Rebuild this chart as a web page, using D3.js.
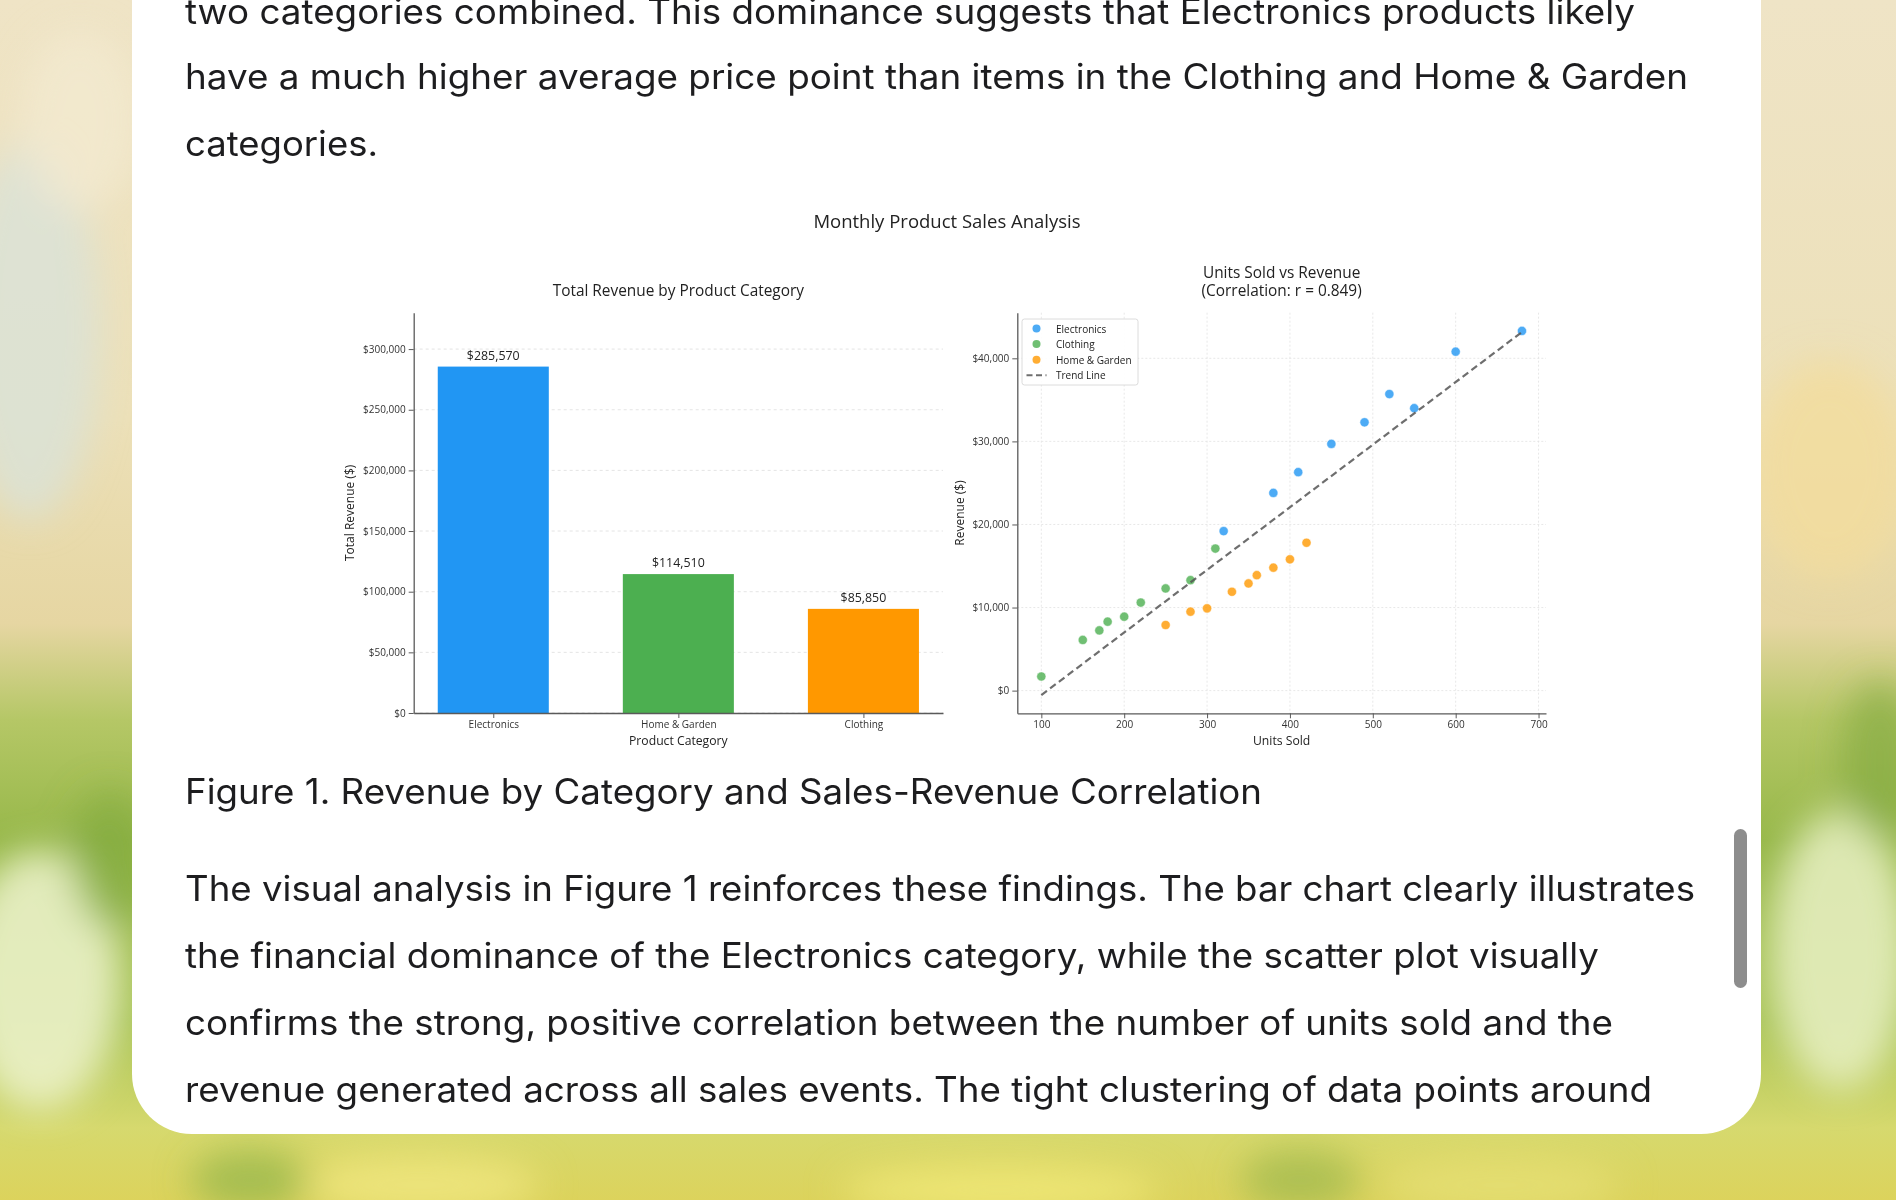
<!DOCTYPE html>
<html>
<head>
<meta charset="utf-8">
<script src="https://cdn.jsdelivr.net/npm/d3@7"></script>
<style>
html, body { margin: 0; padding: 0; width: 1896px; height: 1200px; overflow: hidden; background: #e9dcb4; }
svg { display: block; }
</style>
</head>
<body>
<svg id="page" width="1896" height="1200"></svg>
<script>
// ---------- DATA ----------
const categories = ["Electronics", "Home & Garden", "Clothing"];
const totalRevenue = [285570, 114510, 85850];
const barColors = ["#2196F3", "#4CAF50", "#FF9800"];
const revenueTicks = [0, 50000, 100000, 150000, 200000, 250000, 300000];

const electronicsUnits   = [320, 380, 410, 450, 490, 520, 550, 600, 680];
const electronicsRevenue = [19200, 23800, 26300, 29700, 32300, 35700, 34000, 40800, 43300];
const clothingUnits      = [100, 150, 170, 180, 200, 220, 250, 280, 310];
const clothingRevenue    = [1700, 6100, 7250, 8300, 8900, 10600, 12300, 13300, 17100];
const homeUnits          = [250, 280, 300, 330, 350, 360, 380, 400, 420];
const homeRevenue        = [7900, 9500, 9900, 11900, 12900, 13900, 14800, 15800, 17800];
const scatterSeries = ["Electronics", "Clothing", "Home & Garden"];
const scatterColors = ["#2196F3", "#4CAF50", "#FF9800"];
const unitTicks = [100, 200, 300, 400, 500, 600, 700];
const scatterRevenueTicks = [0, 10000, 20000, 30000, 40000];

const suptitle = "Monthly Product Sales Analysis";
const barTitle = "Total Revenue by Product Category";
const scatterTitle1 = "Units Sold vs Revenue";
const scatterTitle2 = "(Correlation: r = 0.849)";

const textTop = [
  "two categories combined. This dominance suggests that Electronics products likely",
  "have a much higher average price point than items in the Clothing and Home & Garden",
  "categories."
];
const caption = "Figure 1. Revenue by Category and Sales-Revenue Correlation";
const textBottom = [
  "The visual analysis in Figure 1 reinforces these findings. The bar chart clearly illustrates",
  "the financial dominance of the Electronics category, while the scatter plot visually",
  "confirms the strong, positive correlation between the number of units sold and the",
  "revenue generated across all sales events. The tight clustering of data points around"
];

// ---------- PAGE ----------
const svg = d3.select("#page");
const defs = svg.append("defs");
const bg = defs.append("linearGradient").attr("id", "bgv").attr("x1", 0).attr("y1", 0).attr("x2", 0).attr("y2", 1);
[[0, "#efe4c6"], [0.35, "#ece0b8"], [0.52, "#e6d6a2"], [0.6, "#b5c766"], [0.7, "#97b84a"], [0.85, "#a9c457"], [0.94, "#d6d96e"], [1, "#dcd35c"]]
  .forEach(([o, c]) => bg.append("stop").attr("offset", o).attr("stop-color", c));
defs.append("filter").attr("id", "blur").append("feGaussianBlur").attr("stdDeviation", 18);

svg.append("rect").attr("width", 1896).attr("height", 1200).attr("fill", "url(#bgv)");
const blobs = svg.append("g").attr("filter", "url(#blur)");
[
  [30, 330, 70, 190, "#d9e2d8", 0.8],
  [80, 120, 60, 90, "#f3ead0", 0.8],
  [40, 980, 80, 130, "#eef3cf", 0.85],
  [110, 860, 40, 70, "#7fa83c", 0.6],
  [1830, 470, 80, 110, "#f2dc9c", 0.8],
  [1840, 950, 70, 140, "#e9f0c4", 0.85],
  [1880, 760, 40, 80, "#7ea63a", 0.6],
  [420, 1185, 120, 30, "#eee67e", 0.9],
  [1000, 1190, 160, 25, "#f0e878", 0.9],
  [1500, 1185, 120, 30, "#e4de72", 0.9],
  [250, 1180, 60, 30, "#8db34a", 0.7],
  [1300, 1180, 60, 30, "#98b64c", 0.7]
].forEach(([cx, cy, rx, ry, c, o]) =>
  blobs.append("ellipse").attr("cx", cx).attr("cy", cy).attr("rx", rx).attr("ry", ry).attr("fill", c).attr("opacity", o));

// card
svg.append("rect").attr("x", 132).attr("y", -100).attr("width", 1629).attr("height", 1234)
  .attr("rx", 60).attr("fill", "#ffffff");
// scrollbar
svg.append("rect").attr("x", 1734).attr("y", 829).attr("width", 13).attr("height", 159)
  .attr("rx", 6.5).attr("fill", "#8d8d8d");

// body text
const bodyFont = "Inter, 'Noto Sans', sans-serif";
const bodyGroup = svg.append("g").attr("font-family", bodyFont).attr("font-size", 35).attr("fill", "#1d1d1f");
const topWidths = [1450, 1503, 193];
const topBase = [24, 89, 156];
textTop.forEach((t, i) => bodyGroup.append("text").attr("x", 185).attr("y", topBase[i])
  .attr("textLength", topWidths[i]).attr("lengthAdjust", "spacingAndGlyphs").text(t));
bodyGroup.append("text").attr("x", 185).attr("y", 804).attr("textLength", 1077)
  .attr("lengthAdjust", "spacingAndGlyphs").text(caption);
const botWidths = [1510, 1414, 1428, 1467];
const botBase = [901, 968, 1035, 1102];
textBottom.forEach((t, i) => bodyGroup.append("text").attr("x", 185).attr("y", botBase[i])
  .attr("textLength", botWidths[i]).attr("lengthAdjust", "spacingAndGlyphs").text(t));

// ---------- CHART ----------
const chartFont = "'Open Sans', 'Noto Sans', sans-serif";
const chart = svg.append("g").attr("font-family", chartFont);
const fmtMoney = d => "$" + d3.format(",")(d);

chart.append("text").attr("x", 947).attr("y", 228).attr("text-anchor", "middle")
  .attr("font-size", 18.5).attr("fill", "#222").text(suptitle);

function styleAxis(g) {
  g.selectAll(".domain").attr("stroke", "#5a5a5a").attr("stroke-width", 1.3);
  g.selectAll(".tick line").attr("stroke", "#5a5a5a").attr("stroke-width", 1);
  g.selectAll(".tick text").attr("fill", "#333").attr("font-size", 10).attr("font-family", chartFont);
}

// --- Bar chart ---
const bL = 413.7, bR = 943, bT = 312.7, bB = 713;
const bx = d3.scaleLinear().domain([-0.43, categories.length - 1 + 0.43]).range([bL, bR]);
const by = d3.scaleLinear().domain([0, 330000]).range([bB, bT]);
const barW = 0.6;

const bGrid = chart.append("g");
bGrid.selectAll("line").data(revenueTicks).join("line")
  .attr("x1", bL).attr("x2", bR).attr("y1", d => by(d)).attr("y2", d => by(d))
  .attr("stroke", "#cfcfcf").attr("stroke-dasharray", "3,3").attr("stroke-width", 0.8).attr("opacity", 0.7);

chart.append("g").selectAll("rect").data(totalRevenue).join("rect")
  .attr("x", (d, i) => bx(i - barW / 2)).attr("width", (d, i) => bx(i + barW / 2) - bx(i - barW / 2))
  .attr("y", d => by(d)).attr("height", d => by(0) - by(d))
  .attr("fill", (d, i) => barColors[i]);

chart.append("g").selectAll("text").data(totalRevenue).join("text")
  .attr("x", (d, i) => bx(i)).attr("y", d => by(d) - 7).attr("text-anchor", "middle")
  .attr("font-size", 12.4).attr("fill", "#222").text(d => fmtMoney(d));

const bxAxis = chart.append("g").attr("transform", `translate(0,${bB})`)
  .call(d3.axisBottom(bx).tickValues(categories.map((c, i) => i)).tickFormat(i => categories[i])
    .tickSize(5).tickSizeOuter(0).tickPadding(3));
styleAxis(bxAxis);
const byAxis = chart.append("g").attr("transform", `translate(${bL},0)`)
  .call(d3.axisLeft(by).tickValues(revenueTicks).tickFormat(fmtMoney).tickSize(5).tickSizeOuter(0).tickPadding(3));
styleAxis(byAxis);

chart.append("text").attr("x", (bL + bR) / 2).attr("y", 296).attr("text-anchor", "middle")
  .attr("font-size", 15.4).attr("fill", "#222").text(barTitle);
chart.append("text").attr("x", (bL + bR) / 2).attr("y", 745).attr("text-anchor", "middle")
  .attr("font-size", 12.2).attr("fill", "#222").text("Product Category");
chart.append("text").attr("transform", `translate(349,${(bT + bB) / 2}) rotate(-90)`)
  .attr("text-anchor", "middle").attr("dominant-baseline", "central")
  .attr("font-size", 12).attr("fill", "#222").text("Total Revenue ($)");

// --- Scatter ---
const sL = 1017.3, sR = 1546, sT = 312.7, sB = 713.3;
const seriesUnits = [electronicsUnits, clothingUnits, homeUnits];
const seriesRevenue = [electronicsRevenue, clothingRevenue, homeRevenue];
const allX = seriesUnits.flat(), allY = seriesRevenue.flat();
const mx = d3.mean(allX), my = d3.mean(allY);
const slope = d3.sum(allX.map((x, i) => (x - mx) * (allY[i] - my))) / d3.sum(allX.map(x => (x - mx) ** 2));
const intercept = my - slope * mx;
const [xMin, xMax] = d3.extent(allX);
const trend = [[xMin, intercept + slope * xMin], [xMax, intercept + slope * xMax]];
const yLo = Math.min(d3.min(allY), trend[0][1], trend[1][1]);
const yHi = Math.max(d3.max(allY), trend[0][1], trend[1][1]);
const xPad = (xMax - xMin) * 0.05, yPad = (yHi - yLo) * 0.05;
const sx = d3.scaleLinear().domain([xMin - xPad, xMax + xPad]).range([sL, sR]);
const sy = d3.scaleLinear().domain([yLo - yPad, yHi + yPad]).range([sB, sT]);

const sGrid = chart.append("g").attr("stroke", "#d6d6d6").attr("stroke-width", 0.8)
  .attr("stroke-dasharray", "2,2").attr("opacity", 0.7);
sGrid.selectAll(".gx").data(unitTicks).join("line").attr("class", "gx")
  .attr("x1", d => sx(d)).attr("x2", d => sx(d)).attr("y1", sT).attr("y2", sB);
sGrid.selectAll(".gy").data(scatterRevenueTicks).join("line").attr("class", "gy")
  .attr("x1", sL).attr("x2", sR).attr("y1", d => sy(d)).attr("y2", d => sy(d));

seriesUnits.forEach((us, k) => {
  chart.append("g").selectAll("circle").data(us).join("circle")
    .attr("cx", d => sx(d)).attr("cy", (d, i) => sy(seriesRevenue[k][i])).attr("r", 4.6)
    .attr("fill", scatterColors[k]).attr("fill-opacity", 0.8)
    .attr("stroke", "#fff").attr("stroke-width", 0.5);
});

chart.append("path").datum(trend)
  .attr("d", d3.line().x(d => sx(d[0])).y(d => sy(d[1])))
  .attr("fill", "none").attr("stroke", "#555").attr("stroke-width", 2.2)
  .attr("stroke-dasharray", "7,4").attr("opacity", 0.85);

const sxAxis = chart.append("g").attr("transform", `translate(0,${sB})`)
  .call(d3.axisBottom(sx).tickValues(unitTicks).tickSize(5).tickSizeOuter(0).tickPadding(3));
styleAxis(sxAxis);
const syAxis = chart.append("g").attr("transform", `translate(${sL},0)`)
  .call(d3.axisLeft(sy).tickValues(scatterRevenueTicks).tickFormat(fmtMoney).tickSize(5).tickSizeOuter(0).tickPadding(3));
styleAxis(syAxis);

chart.append("text").attr("x", (sL + sR) / 2).attr("y", 278).attr("text-anchor", "middle")
  .attr("font-size", 15.4).attr("fill", "#222").text(scatterTitle1);
chart.append("text").attr("x", (sL + sR) / 2).attr("y", 296).attr("text-anchor", "middle")
  .attr("font-size", 15.4).attr("fill", "#222").text(scatterTitle2);
chart.append("text").attr("x", (sL + sR) / 2).attr("y", 745).attr("text-anchor", "middle")
  .attr("font-size", 12.2).attr("fill", "#222").text("Units Sold");
chart.append("text").attr("transform", `translate(959,${(sT + sB) / 2}) rotate(-90)`)
  .attr("text-anchor", "middle").attr("dominant-baseline", "central")
  .attr("font-size", 12).attr("fill", "#222").text("Revenue ($)");

// legend
const lg = chart.append("g").attr("transform", "translate(1022,319)");
lg.append("rect").attr("width", 116).attr("height", 66).attr("rx", 2.5)
  .attr("fill", "#fff").attr("fill-opacity", 0.9).attr("stroke", "#d8d8d8").attr("stroke-width", 0.9);
const legendItems = scatterSeries.map((s, i) => ({ label: s, color: scatterColors[i], kind: "dot" }))
  .concat([{ label: "Trend Line", color: "#555", kind: "dash" }]);
legendItems.forEach((it, i) => {
  const y = 9.5 + i * 15.6;
  if (it.kind === "dot") {
    lg.append("circle").attr("cx", 14.5).attr("cy", y).attr("r", 4)
      .attr("fill", it.color).attr("fill-opacity", 0.8);
  } else {
    lg.append("line").attr("x1", 4.5).attr("x2", 24.5).attr("y1", y).attr("y2", y)
      .attr("stroke", it.color).attr("stroke-width", 2).attr("stroke-dasharray", "6,3.5").attr("opacity", 0.85);
  }
  lg.append("text").attr("x", 34).attr("y", y).attr("dominant-baseline", "central")
    .attr("font-size", 10).attr("fill", "#222").text(it.label);
});
</script>
</body>
</html>
